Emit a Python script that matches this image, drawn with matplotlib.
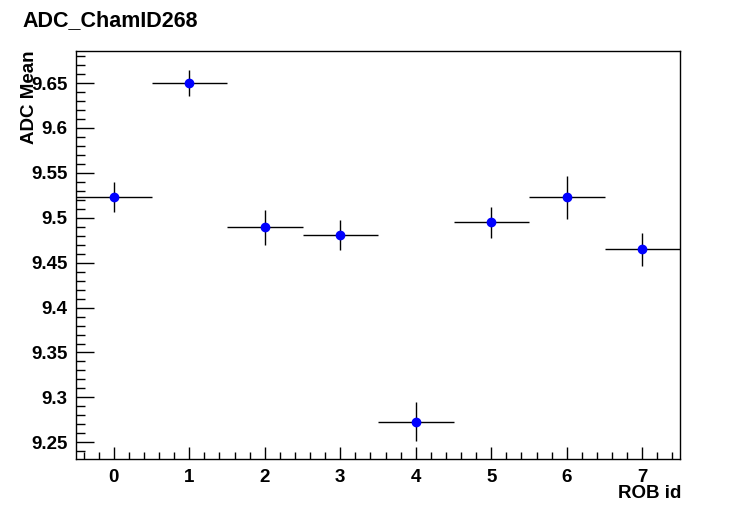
import matplotlib
matplotlib.use("Agg")
import matplotlib.pyplot as plt
from matplotlib.ticker import MultipleLocator, FuncFormatter

# ADC mean per ROB
rob_id = [0, 1, 2, 3, 4, 5, 6, 7]
adc_mean = [9.5226, 9.6500, 9.4892, 9.4803, 9.2730, 9.4948, 9.5226, 9.4647]
adc_err = [0.0167, 0.0149, 0.0193, 0.0167, 0.0220, 0.0170, 0.0243, 0.0182]
bin_halfwidth = [0.5] * 8

plt.rcParams['font.family'] = ['Liberation Sans', 'DejaVu Sans']
plt.rcParams['font.weight'] = 'bold'

fig = plt.figure(figsize=(7.56, 5.11), dpi=100)
ax = fig.add_axes([76 / 756, 1 - 459 / 511, (680 - 76) / 756, (459 - 51) / 511])

ax.errorbar(rob_id, adc_mean, yerr=adc_err, xerr=bin_halfwidth,
            fmt='o', color='blue', ecolor='black', elinewidth=1,
            markersize=6, capsize=0, zorder=3)

ax.set_xlim(-0.5, 7.5)
ax.set_ylim(9.2314, 9.6857)

ax.xaxis.set_major_locator(MultipleLocator(1))
ax.xaxis.set_minor_locator(MultipleLocator(0.2))
ax.yaxis.set_major_locator(MultipleLocator(0.05))
ax.yaxis.set_minor_locator(MultipleLocator(0.01))
ax.yaxis.set_major_formatter(FuncFormatter(lambda v, p: f"{v:g}"))

ax.tick_params(axis='both', which='both', direction='in', top=False, right=False,
               labelsize=13.5, width=1)
ax.tick_params(axis='y', which='major', length=13, pad=6)
ax.tick_params(axis='y', which='minor', length=6.5)
ax.tick_params(axis='x', which='major', length=9, pad=7)
ax.tick_params(axis='x', which='minor', length=5)
for lab in ax.get_xticklabels() + ax.get_yticklabels():
    lab.set_fontweight('bold')
for s in ax.spines.values():
    s.set_linewidth(1)

fig.text(22 / 756, 1 - 21 / 511, "ADC_ChamID268", fontsize=15.5, fontweight='bold',
         ha='left', va='center')
fig.text(30 / 756, 1 - 50 / 511, "ADC Mean", fontsize=13.5, fontweight='bold',
         rotation=90, ha='center', va='top')
fig.text(681 / 756, 1 - 494 / 511, "ROB id", fontsize=13.5, fontweight='bold',
         ha='right', va='center')

plt.savefig("out.png", dpi=100)
